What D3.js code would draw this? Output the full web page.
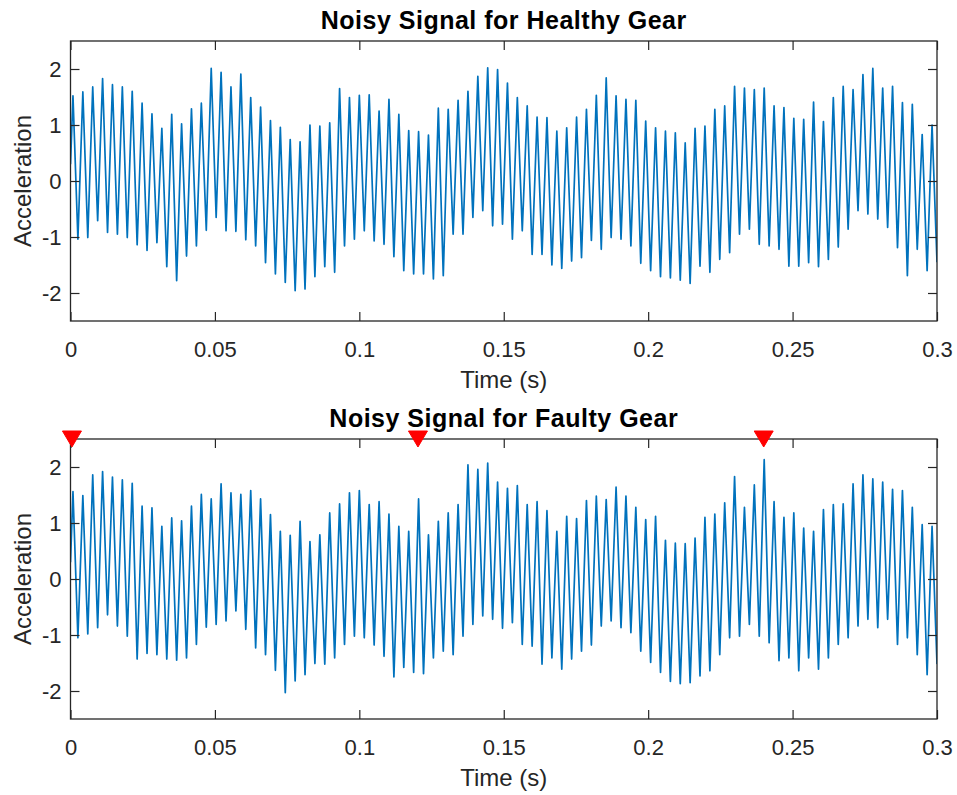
<!DOCTYPE html>
<html><head><meta charset="utf-8">
<script src="https://cdn.jsdelivr.net/npm/d3@7"></script>
<style>
body{margin:0;background:#fff}
svg{display:block}
text{font-family:"Liberation Sans",Arial,Helvetica,sans-serif;fill:#262626}
</style>
</head><body><div id="chart"></div>
<script>
// ---- data ----
const xTicks = [0, 0.05, 0.1, 0.15, 0.2, 0.25, 0.3];
const yTicks = [-2, -1, 0, 1, 2];
const xDomain = [0, 0.3];
const yDomain = [-2.5, 2.5];
const meshFrequency = 292.5;          // Hz: ~88 oscillations in 0.3 s
const titles = ["Noisy Signal for Healthy Gear", "Noisy Signal for Faulty Gear"];
const xLabel = "Time (s)";
const yLabel = "Acceleration";

const healthyStart = 0.3;
const healthyPeaks = [1.52,1.59,1.68,1.83,1.72,1.68,1.60,1.39,1.20,0.94,
  1.19,1.02,1.29,1.39,2.01,1.94,1.68,1.91,1.49,1.32,
  1.08,0.96,0.74,0.70,1.00,0.98,1.04,1.65,1.49,1.53,
  1.54,1.25,1.46,1.19,0.90,0.88,0.82,1.30,1.28,1.44,
  1.60,1.87,2.02,1.99,1.75,1.49,1.34,1.14,1.13,0.89,
  0.95,1.14,1.28,1.53,1.84,1.52,1.46,1.44,1.07,0.95,
  0.89,0.86,0.68,0.94,0.98,1.28,1.34,1.69,1.66,1.63,
  1.66,1.34,1.31,1.12,1.10,1.41,1.06,1.49,1.69,1.63,
  1.90,2.01,1.66,1.69,1.40,1.37,0.83,1.00];
const healthyTroughs = [-1.04,-1.01,-0.71,-0.92,-0.95,-1.01,-1.14,-1.24,-1.10,-1.53,
  -1.78,-1.34,-1.16,-0.88,-0.65,-0.89,-0.90,-1.05,-1.16,-1.46,
  -1.66,-1.81,-1.96,-1.93,-1.71,-1.53,-1.63,-1.16,-1.04,-0.89,
  -1.07,-1.13,-1.35,-1.60,-1.66,-1.66,-1.75,-1.69,-0.95,-0.95,
  -0.65,-0.53,-0.80,-0.77,-1.04,-0.89,-1.31,-1.31,-1.50,-1.56,
  -1.43,-1.37,-1.06,-1.22,-1.01,-1.04,-1.16,-1.47,-1.60,-1.71,
  -1.73,-1.77,-1.83,-1.52,-1.63,-1.40,-1.28,-0.95,-0.86,-1.13,
  -1.16,-1.22,-1.52,-1.52,-1.46,-1.53,-1.40,-1.18,-0.86,-0.53,
  -0.59,-0.68,-0.83,-1.19,-1.69,-1.22,-1.60,-1.45];

const faultyStart = 0.3;
const faultyPeaks = [1.56,1.49,1.86,1.92,1.82,1.77,1.71,1.30,1.27,0.94,
  1.09,1.04,1.30,1.51,1.43,1.70,1.54,1.51,1.58,1.43,
  1.15,0.85,0.78,1.03,0.67,0.79,1.18,1.34,1.54,1.58,
  1.33,1.38,1.16,0.94,0.85,1.43,0.79,1.03,1.18,1.33,
  2.04,1.96,2.07,1.73,1.62,1.67,1.33,1.38,1.22,0.85,
  1.12,1.08,1.40,1.48,1.42,1.64,1.48,1.28,1.06,1.12,
  0.69,0.64,0.63,0.73,1.10,1.16,1.36,1.83,1.28,1.68,
  2.13,1.38,1.10,1.18,0.91,0.85,1.24,1.33,1.34,1.70,
  1.86,1.79,1.73,1.60,1.58,1.28,0.97,0.94];
const faultyTroughs = [-1.05,-0.98,-0.87,-0.64,-0.84,-1.02,-1.43,-1.33,-1.35,-1.43,
  -1.45,-1.41,-1.17,-0.86,-0.81,-0.75,-0.57,-0.90,-1.23,-1.35,
  -1.63,-2.03,-1.82,-1.71,-1.51,-1.52,-1.41,-1.17,-1.02,-1.05,
  -1.18,-1.38,-1.75,-1.58,-1.67,-1.69,-1.41,-1.29,-1.35,-1.02,
  -0.81,-0.66,-0.72,-0.88,-0.78,-1.17,-1.20,-1.52,-1.41,-1.61,
  -1.43,-1.29,-1.18,-0.84,-0.75,-0.87,-0.96,-1.29,-1.49,-1.67,
  -1.83,-1.87,-1.85,-1.73,-1.64,-1.35,-1.05,-1.02,-0.81,-1.02,
  -1.14,-1.46,-1.41,-1.64,-1.41,-1.61,-1.41,-1.17,-1.05,-0.84,
  -0.72,-0.87,-0.72,-1.17,-1.05,-1.35,-1.71,-1.52];

const faultMarkerTimes = [0.0005, 0.1203, 0.2400];
const faultMarkerLevel = 2.5;

// ---- drawing ----
const W = 957, H = 795;
const svg = d3.select("#chart").append("svg").attr("width", W).attr("height", H);
const left = 70.5, right = 937;
const panels = [
  {top: 41, bottom: 321, title: titles[0], start: healthyStart, peaks: healthyPeaks, troughs: healthyTroughs, markers: []},
  {top: 439, bottom: 719, title: titles[1], start: faultyStart, peaks: faultyPeaks, troughs: faultyTroughs, markers: faultMarkerTimes}
];

function buildSeries(start, peaks, troughs) {
  const pts = [{t: 0, v: start}];
  peaks.forEach((p, k) => {
    pts.push({t: (k + 0.25) / meshFrequency, v: p});
    if (k < troughs.length) pts.push({t: Math.min((k + 0.75) / meshFrequency, xDomain[1]), v: troughs[k]});
  });
  return pts;
}

const axisColor = "#262626";
const tickLen = 9;
const fontFam = '"Liberation Sans",Arial,Helvetica,sans-serif';

panels.forEach((p, i) => {
  const x = d3.scaleLinear().domain(xDomain).range([left, right]);
  const y = d3.scaleLinear().domain(yDomain).range([p.bottom, p.top]);
  const g = svg.append("g");

  const clipId = "clip" + i;
  svg.append("defs").append("clipPath").attr("id", clipId)
    .append("rect").attr("x", left).attr("y", p.top).attr("width", right - left).attr("height", p.bottom - p.top);

  // line
  const data = buildSeries(p.start, p.peaks, p.troughs);
  g.append("path").datum(data)
    .attr("clip-path", `url(#${clipId})`)
    .attr("fill", "none").attr("stroke", "#0072BD").attr("stroke-width", 1.7)
    .attr("stroke-linejoin", "round")
    .attr("d", d3.line().x(d => x(d.t)).y(d => y(d.v)));

  const fmt = d => String(d);
  const ax = g.append("g").attr("transform", `translate(0,${p.bottom})`)
    .call(d3.axisBottom(x).tickValues(xTicks).tickFormat(fmt).tickSizeInner(-tickLen).tickSizeOuter(0).tickPadding(20));
  const ay = g.append("g").attr("transform", `translate(${left},0)`)
    .call(d3.axisLeft(y).tickValues(yTicks).tickFormat(fmt).tickSizeInner(-tickLen).tickSizeOuter(0).tickPadding(9));
  const axt = g.append("g").attr("transform", `translate(0,${p.top})`)
    .call(d3.axisTop(x).tickValues(xTicks).tickFormat("").tickSizeInner(-tickLen).tickSizeOuter(0));
  const ayr = g.append("g").attr("transform", `translate(${right},0)`)
    .call(d3.axisRight(y).tickValues(yTicks).tickFormat("").tickSizeInner(-tickLen).tickSizeOuter(0));
  [ax, ay, axt, ayr].forEach(a => {
    a.select(".domain").remove();
    a.selectAll("line").attr("stroke", axisColor).attr("stroke-width", 1.2);
    a.selectAll("text").attr("fill", axisColor).style("font-size", "22px").style("font-family", fontFam);
  });

  // box
  g.append("rect").attr("x", left).attr("y", p.top).attr("width", right - left).attr("height", p.bottom - p.top)
    .attr("fill", "none").attr("stroke", axisColor).attr("stroke-width", 1.3);

  // labels
  g.append("text").attr("x", (left + right) / 2).attr("y", p.bottom + 67)
    .attr("text-anchor", "middle").style("font-size", "24px").text(xLabel);
  g.append("text").attr("transform", `translate(${31},${(p.top + p.bottom) / 2}) rotate(-90)`)
    .attr("text-anchor", "middle").style("font-size", "24px").text(yLabel);
  g.append("text").attr("x", (left + right) / 2).attr("y", p.top - 12.5)
    .attr("text-anchor", "middle").style("font-size", "25px").style("font-weight", "bold")
    .style("letter-spacing", "0.5px").style("fill", "#000").text(p.title);

  // markers (downward triangles)
  p.markers.forEach(t => {
    const cx = x(t), cy = y(faultMarkerLevel);
    const w = 19, h = 16;
    g.append("path")
      .attr("d", `M${cx - w/2},${cy - h/2} L${cx + w/2},${cy - h/2} L${cx},${cy + h/2} Z`)
      .attr("fill", "#FF0000").attr("stroke", "#FF0000").attr("stroke-width", 1);
  });
});
</script>
</body></html>
